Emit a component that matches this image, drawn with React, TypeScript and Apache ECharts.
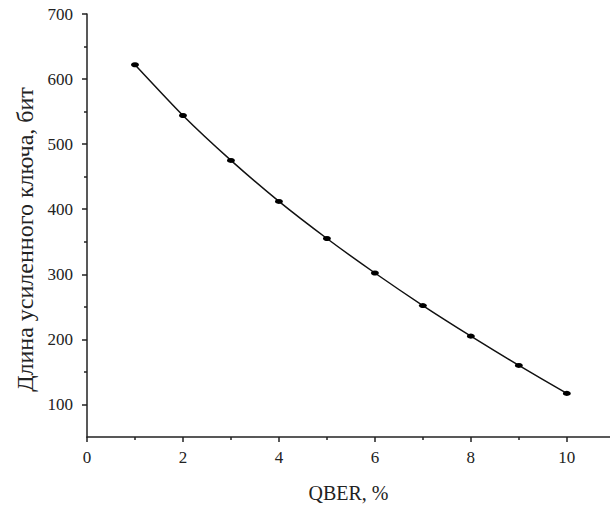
import React, { useEffect, useRef } from "react";
import * as echarts from "echarts";

const qber = [1, 2, 3, 4, 5, 6, 7, 8, 9, 10];
const keyLength = [622, 544, 475, 412, 355, 302, 252, 205, 160, 117];
const xMajor = [0, 2, 4, 6, 8, 10];
const xMinor = [1, 3, 5, 7, 9];
const yMajor = [100, 200, 300, 400, 500, 600, 700];
const yMinor = [150, 250, 350, 450, 550, 650];

const FONT = "'Liberation Serif', 'Times New Roman', serif";
const AX = "#222";

export default function App() {
  const ref = useRef<HTMLDivElement>(null);
  useEffect(() => {
    const chart = echarts.init(ref.current!, null, { renderer: "svg" });
    const common = { min: 0, max: 10.9, type: "value" as const };
    chart.setOption({
      animation: false,
      backgroundColor: "#fff",
      grid: { left: 87, right: 0, top: 14, bottom: 69, containLabel: false },
      xAxis: [
        {
          ...common,
          name: "QBER, %",
          nameLocation: "middle",
          nameGap: 46,
          nameTextStyle: { fontFamily: FONT, fontSize: 20, color: AX },
          axisLine: { show: true, lineStyle: { color: AX, width: 1.5 } },
          axisTick: { show: true, length: 5, customValues: xMajor, lineStyle: { color: AX, width: 1.5 } },
          axisLabel: { customValues: xMajor, margin: 12, fontFamily: FONT, fontSize: 17, color: AX },
          splitLine: { show: false },
        },
        {
          ...common,
          position: "bottom",
          axisLine: { show: false },
          axisTick: { show: true, length: 3, customValues: xMinor, lineStyle: { color: AX, width: 1.5 } },
          axisLabel: { show: false },
          splitLine: { show: false },
        },
      ],
      yAxis: [
        {
          type: "value",
          min: 50,
          max: 700,
          name: "Длина усиленного ключа, бит",
          nameLocation: "middle",
          nameGap: 44,
          nameTextStyle: { fontFamily: FONT, fontSize: 24, color: AX, padding: [0, 28, 0, 0] },
          axisLine: { show: true, lineStyle: { color: AX, width: 1.5 } },
          axisTick: { show: true, length: 5, customValues: yMajor, lineStyle: { color: AX, width: 1.5 } },
          axisLabel: { customValues: yMajor, margin: 14, fontFamily: FONT, fontSize: 17, color: AX },
          splitLine: { show: false },
        },
        {
          type: "value",
          min: 50,
          max: 700,
          position: "left",
          axisLine: { show: false },
          axisTick: { show: true, length: 3, customValues: yMinor, lineStyle: { color: AX, width: 1.5 } },
          axisLabel: { show: false },
          splitLine: { show: false },
        },
      ],
      series: [
        {
          type: "line",
          data: qber.map((x, i) => [x, keyLength[i]]),
          smooth: 0.2,
          symbol: "circle",
          symbolSize: [8, 5],
          itemStyle: { color: "#000" },
          lineStyle: { color: "#111", width: 1.5 },
        },
      ],
    });
    return () => chart.dispose();
  }, []);
  return (
    <div
      ref={ref}
      style={{ position: "fixed", left: 0, top: 0, width: 610, height: 508 }}
    />
  );
}
